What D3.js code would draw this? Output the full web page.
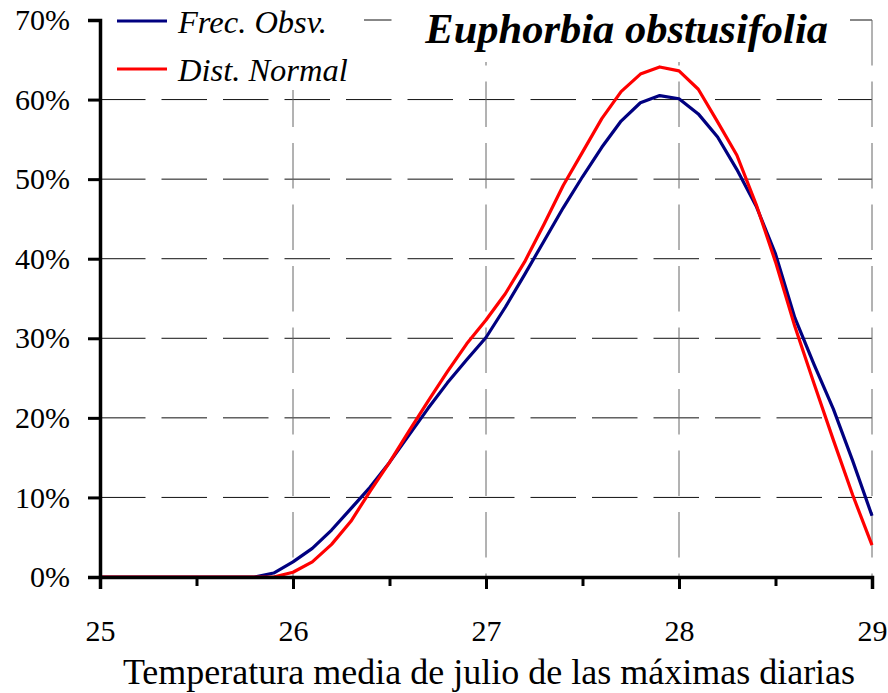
<!DOCTYPE html>
<html>
<head>
<meta charset="utf-8">
<script src="https://cdn.jsdelivr.net/npm/d3@7"></script>
<style>
  html, body { margin:0; padding:0; background:#fff; }
  svg { display:block; font-family:"Liberation Serif","Times New Roman",serif; }
</style>
</head>
<body>
<svg id="chart" width="888" height="693"></svg>
<script>
// --- Data ---
const temps = d3.range(41).map(i => +(25 + i*0.1).toFixed(1));   // 25.0 .. 29.0 step 0.1
const frecObsv = [0,0,0,0,0,0,0,0,0,0.5,
  1.9,3.6,5.9,8.6,11.3,14.4,17.8,21.2,24.4,27.3,
  30.1,33.9,38.0,42.2,46.4,50.3,54.0,57.3,59.6,60.5,
  60.1,58.2,55.3,51.2,46.6,40.6,32.6,26.7,21.1,14.6,7.7];
const distNormal = [0,0,0,0,0,0,0,0,0,0,
  0.6,1.9,4.1,7.0,10.8,14.4,18.3,22.1,25.8,29.3,
  32.3,35.6,39.6,44.3,49.2,53.4,57.6,61.0,63.2,64.1,
  63.6,61.3,57.2,53.0,46.8,39.6,31.5,24.3,17.2,10.3,4.0];
const xTicks = [25,26,27,28,29];
const xMinor = [25.5,26.5,27.5,28.5];
const yTicks = [0,10,20,30,40,50,60,70];
const seriesNames = ["Frec. Obsv.","Dist. Normal"];
const seriesColors = ["#000080","#ff0000"];
const title = "Euphorbia obstusifolia";
const xTitle = "Temperatura media de julio de las máximas diarias";

// --- Layout ---
const svg = d3.select("#chart");
const FONT = "Liberation Serif";
const L = 100, R = 872, T = 20, B = 577;
const x = d3.scaleLinear().domain([25,29]).range([L,R]);
const y = d3.scaleLinear().domain([0,70]).range([B,T]);
const dash = "45.5,16";

// grid
const grid = svg.append("g");
grid.selectAll(".hg").data(yTicks.filter(d => d > 0)).join("line")
  .attr("x1", L).attr("x2", R).attr("y1", d => y(d)).attr("y2", d => y(d))
  .attr("stroke","#111").attr("stroke-width",1).attr("stroke-dasharray",dash);
grid.selectAll(".vg").data(xTicks.filter(d => d > 25)).join("line")
  .attr("x1", d => x(d)).attr("x2", d => x(d)).attr("y1", T).attr("y2", B)
  .attr("stroke","#666").attr("stroke-width",1).attr("stroke-dasharray",dash);

// white boxes behind legend and title
svg.append("rect").attr("x",102).attr("y",0).attr("width",262).attr("height",90).attr("fill","#fff");
svg.append("rect").attr("x",405).attr("y",0).attr("width",445).attr("height",62).attr("fill","#fff");

// curves
const line = d3.line().x((d,i) => x(temps[i])).y(d => y(d));
[frecObsv, distNormal].forEach((s,k) => {
  svg.append("path").datum(s).attr("d", line)
    .attr("fill","none").attr("stroke",seriesColors[k]).attr("stroke-width",3.2)
    .attr("stroke-linejoin","round");
});

// axes
const yAxis = svg.append("g").attr("transform",`translate(${L},0)`)
  .call(d3.axisLeft(y).tickValues(yTicks).tickFormat(d => d + "%").tickSize(12).tickPadding(18));
const xMinorAxis = svg.append("g").attr("transform",`translate(0,${B})`)
  .call(d3.axisBottom(x).tickValues(xMinor).tickFormat("").tickSize(9));
const xAxis = svg.append("g").attr("transform",`translate(0,${B})`)
  .call(d3.axisBottom(x).tickValues(xTicks).tickFormat(d3.format("d")).tickSize(12).tickPadding(31));
[yAxis, xAxis, xMinorAxis].forEach(a => {
  a.attr("font-family", FONT).attr("font-size", 30);
  a.select(".domain").attr("stroke","#000").attr("stroke-width",3.5);
  a.selectAll(".tick line").attr("stroke","#000").attr("stroke-width",3);
  a.selectAll("text").attr("fill","#000");
});
xMinorAxis.select(".domain").remove();

// axis title
svg.append("text").attr("x",(L+R)/2 + 3).attr("y",684).attr("text-anchor","middle")
  .attr("font-family", FONT).attr("font-size",36).text(xTitle);

// chart title
svg.append("text").attr("x",828).attr("y",43).attr("text-anchor","end")
  .attr("font-family", FONT).attr("font-size",42.5)
  .attr("font-weight","bold").attr("font-style","italic").text(title);

// legend
const leg = svg.append("g");
seriesNames.forEach((n,k) => {
  const yy = 21 + k*48;
  leg.append("line").attr("x1",117).attr("x2",167).attr("y1",yy).attr("y2",yy)
    .attr("stroke",seriesColors[k]).attr("stroke-width",3.2);
  leg.append("text").attr("x",178).attr("y",yy+12)
    .attr("font-family", FONT).attr("font-size",32.5)
    .attr("font-style","italic").text(n);
});
</script>
</body>
</html>
